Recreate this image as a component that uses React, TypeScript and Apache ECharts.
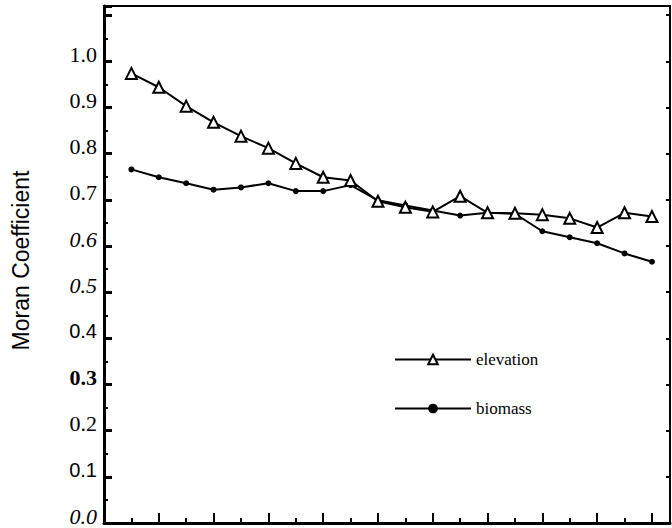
import React, { useEffect, useRef } from "react";
import * as echarts from "echarts";

const steps = [1, 2, 3, 4, 5, 6, 7, 8, 9, 10, 11, 12, 13, 14, 15, 16, 17, 18, 19, 20];
const elevation = [0.974, 0.944, 0.903, 0.868, 0.838, 0.812, 0.779, 0.749, 0.742, 0.697, 0.684, 0.674, 0.708, 0.672, 0.671, 0.668, 0.66, 0.64, 0.672, 0.664];
const biomass = [0.766, 0.749, 0.736, 0.722, 0.727, 0.736, 0.719, 0.719, 0.732, 0.699, 0.688, 0.677, 0.666, 0.672, 0.67, 0.632, 0.619, 0.606, 0.584, 0.566];
const yTickLabels = ["0.0", "0.1", "0.2", "0.3", "0.4", "0.5", "0.6", "0.7", "0.8", "0.9", "1.0"];
const yLabelStyle = ["i", "s", "n", "b", "s", "i", "i", "n", "n", "n", "n"];

export default function App() {
  const ref = useRef<HTMLDivElement>(null);
  useEffect(() => {
    if (!ref.current) return;
    const chart = echarts.init(ref.current, null, { renderer: "svg" });
    const serif = "'Liberation Serif', 'Times New Roman', serif";
    const sans = "'Liberation Sans', Arial, sans-serif";
    const pad = [0, 0, 14, 0];
    chart.setOption({
      animation: false,
      backgroundColor: "#ffffff",
      grid: {
        left: 104,
        right: 2,
        top: 6,
        bottom: 5,
        show: true,
        borderColor: "#000",
        borderWidth: 2,
      },
      legend: {
        orient: "vertical",
        left: 389,
        top: 346,
        itemWidth: 76,
        itemHeight: 12,
        itemGap: 32,
        textStyle: { fontFamily: serif, fontSize: 17, color: "#000" },
        data: ["elevation", { name: "biomass", itemStyle: { color: "#000" } }],
      },
      xAxis: {
        type: "value",
        min: 0,
        max: 20.66,
        interval: 2,
        axisLine: { show: true, lineStyle: { color: "#000", width: 3 } },
        axisTick: { show: true, inside: true, length: 10, lineStyle: { color: "#000", width: 2 } },
        minorTick: { show: true, splitNumber: 2, length: 5, lineStyle: { color: "#000", width: 2 } },
        axisLabel: { show: false },
        splitLine: { show: false },
      },
      yAxis: [
        {
          type: "value",
          min: 0,
          max: 1.12,
          interval: 0.1,
          name: "Moran Coefficient",
          nameLocation: "middle",
          nameRotate: 90,
          nameGap: 72,
          nameTextStyle: { fontFamily: sans, fontSize: 23, color: "#000", padding: [0, 0, 0, 8] },
          axisLine: { show: true, lineStyle: { color: "#000", width: 3 } },
          axisTick: { show: true, inside: true, length: 8, lineStyle: { color: "#000", width: 3 } },
          minorTick: { show: true, splitNumber: 2, length: 4, lineStyle: { color: "#000", width: 2 } },
          splitLine: { show: false },
          axisLabel: {
            margin: 7,
            formatter: (v: number) => {
              const idx = Math.round(v * 10);
              if (idx < 0 || idx >= yTickLabels.length || Math.abs(v * 10 - idx) > 1e-6) return "";
              return "{" + yLabelStyle[idx] + "|" + yTickLabels[idx] + "}";
            },
            rich: {
              n: { fontFamily: serif, fontSize: 22, color: "#000", padding: pad },
              i: { fontFamily: serif, fontSize: 22, fontStyle: "italic", color: "#000", padding: pad },
              b: { fontFamily: serif, fontSize: 22, fontWeight: "bold", color: "#000", padding: pad },
              s: { fontFamily: sans, fontSize: 20, color: "#000", padding: pad },
            },
          },
        },
        {
          type: "value",
          position: "right",
          min: 0,
          max: 1.12,
          interval: 0.1,
          axisLine: { show: true, lineStyle: { color: "#000", width: 2 } },
          axisTick: { show: true, inside: true, length: 4, lineStyle: { color: "#000", width: 2 } },
          axisLabel: { show: false },
          splitLine: { show: false },
        },
      ],
      series: [
        {
          name: "elevation",
          type: "line",
          data: steps.map((s, i) => [s, elevation[i]]),
          symbol: "triangle",
          symbolSize: 11,
          itemStyle: { color: "#fff", borderColor: "#000", borderWidth: 2 },
          lineStyle: { color: "#000", width: 2 },
          z: 3,
        },
        {
          name: "biomass",
          type: "line",
          data: steps.map((s, i) => [s, biomass[i]]),
          symbol: "circle",
          symbolSize: 6,
          itemStyle: { color: "#000", borderColor: "#000", borderWidth: 0 },
          lineStyle: { color: "#000", width: 2 },
          z: 2,
        },
      ],
    });
    return () => chart.dispose();
  }, []);
  return <div ref={ref} style={{ width: 672, height: 528, position: "fixed", left: 0, top: 0 }} />;
}
